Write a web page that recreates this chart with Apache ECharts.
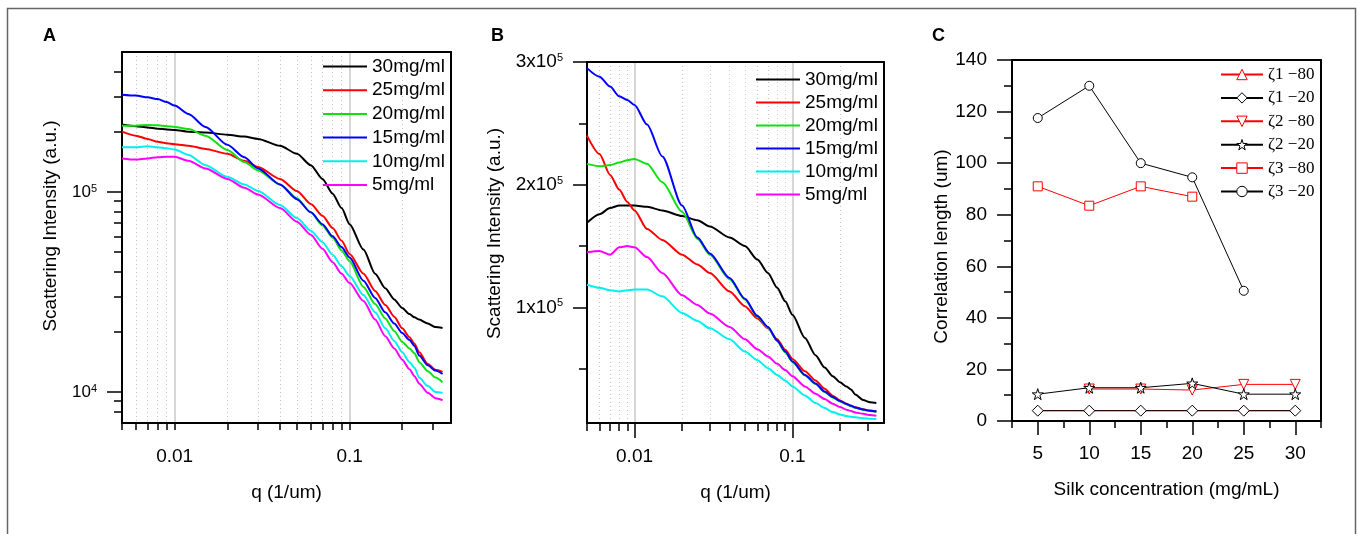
<!DOCTYPE html>
<html><head><meta charset="utf-8">
<script src="https://cdn.jsdelivr.net/npm/echarts@6/dist/echarts.min.js"></script>
<style>html,body{margin:0;padding:0;background:#fff}#c{width:1358px;height:534px}</style>
</head><body><div id="c"></div>
<script>
// ---------- DATA ----------
const Q = [0.005,0.006,0.007,0.008,0.009,0.01,0.012,0.015,0.02,0.025,0.03,0.04,0.05,0.06,0.07,0.08,0.09,0.1,0.12,0.14,0.16,0.18,0.2,0.22,0.235,0.25,0.28,0.31,0.34];
const NAMES = ['30mg/ml','25mg/ml','20mg/ml','15mg/ml','10mg/ml','5mg/ml'];

// Panel A (log-log)
const A30 = [2.17e5,2.13e5,2.10e5,2.07e5,2.05e5,2.04e5,2.00e5,1.98e5,1.93e5,1.89e5,1.84e5,1.70e5,1.55e5,1.36e5,1.16e5,9.8e4,8.3e4,6.9e4,5.15e4,3.9e4,3.3e4,2.9e4,2.63e4,2.45e4,2.36e4,2.3e4,2.2e4,2.11e4,2.09e4];
const A25 = [2.0e5,1.91e5,1.84e5,1.78e5,1.75e5,1.73e5,1.70e5,1.64e5,1.55e5,1.43e5,1.33e5,1.16e5,1.01e5,8.7e4,7.6e4,6.6e4,5.7e4,4.9e4,3.9e4,3.2e4,2.72e4,2.38e4,2.08e4,1.88e4,1.74e4,1.58e4,1.38e4,1.29e4,1.26e4];
const A20 = [2.14e5,2.14e5,2.16e5,2.15e5,2.13e5,2.11e5,2.06e5,1.91e5,1.62e5,1.41e5,1.28e5,1.09e5,9.3e4,7.9e4,6.8e4,5.9e4,5.1e4,4.5e4,3.35e4,2.75e4,2.33e4,2.02e4,1.78e4,1.65e4,1.56e4,1.41e4,1.27e4,1.18e4,1.12e4];
const A15 = [3.06e5,3.03e5,2.97e5,2.91e5,2.81e5,2.70e5,2.45e5,2.11e5,1.72e5,1.49e5,1.31e5,1.09e5,9.2e4,7.9e4,6.9e4,6.0e4,5.3e4,4.7e4,3.6e4,2.95e4,2.5e4,2.2e4,1.97e4,1.82e4,1.7e4,1.52e4,1.36e4,1.28e4,1.23e4];
const A10 = [1.67e5,1.67e5,1.69e5,1.67e5,1.65e5,1.63e5,1.53e5,1.36e5,1.19e5,1.09e5,1.01e5,8.6e4,7.4e4,6.4e4,5.6e4,4.85e4,4.25e4,3.8e4,3.05e4,2.5e4,2.08e4,1.8e4,1.58e4,1.41e4,1.32e4,1.18e4,1.07e4,1.0e4,9.9e3];
const A05 = [1.47e5,1.45e5,1.47e5,1.49e5,1.50e5,1.50e5,1.43e5,1.31e5,1.16e5,1.05e5,9.7e4,8.3e4,7.1e4,6.1e4,5.2e4,4.45e4,3.9e4,3.5e4,2.85e4,2.3e4,1.9e4,1.65e4,1.45e4,1.3e4,1.2e4,1.1e4,9.9e3,9.3e3,9.1e3];

// Panel B (log x, linear y)
const B30 = [1.69e5,1.76e5,1.81e5,1.83e5,1.83e5,1.83e5,1.82e5,1.79e5,1.745e5,1.71e5,1.66e5,1.57e5,1.5e5,1.39e5,1.28e5,1.16e5,1.05e5,9.4e4,7.5e4,6.1e4,5.1e4,4.4e4,3.9e4,3.55e4,3.3e4,2.9e4,2.45e4,2.27e4,2.21e4];
const B25 = [2.4e5,2.25e5,2.08e5,1.96e5,1.86e5,1.79e5,1.64e5,1.55e5,1.43e5,1.35e5,1.28e5,1.13e5,1.01e5,9.1e4,8.3e4,7.4e4,6.55e4,5.8e4,4.8e4,4.05e4,3.37e4,2.8e4,2.42e4,2.15e4,1.98e4,1.86e4,1.7e4,1.6e4,1.54e4];
const B20 = [2.17e5,2.15e5,2.16e5,2.18e5,2.2e5,2.21e5,2.17e5,2.02e5,1.78e5,1.56e5,1.43e5,1.23e5,1.065e5,9.25e4,8.35e4,7.25e4,6.35e4,5.55e4,4.45e4,3.75e4,3.1e4,2.65e4,2.33e4,2.1e4,1.95e4,1.82e4,1.65e4,1.55e4,1.49e4];
const B15 = [2.95e5,2.88e5,2.80e5,2.72e5,2.69e5,2.65e5,2.49e5,2.23e5,1.83e5,1.57e5,1.44e5,1.24e5,1.07e5,9.3e4,8.4e4,7.3e4,6.4e4,5.6e4,4.5e4,3.8e4,3.15e4,2.7e4,2.37e4,2.13e4,1.98e4,1.85e4,1.68e4,1.58e4,1.52e4];
const B10 = [1.185e5,1.16e5,1.14e5,1.13e5,1.14e5,1.145e5,1.145e5,1.09e5,9.55e4,8.9e4,8.3e4,7.4e4,6.4e4,5.7e4,5.05e4,4.5e4,4.05e4,3.56e4,2.83e4,2.21e4,1.8e4,1.47e4,1.28e4,1.15e4,1.08e4,1.04e4,9.7e3,9.2e3,9.0e3];
const B05 = [1.45e5,1.46e5,1.43e5,1.49e5,1.5e5,1.49e5,1.41e5,1.28e5,1.1e5,1.02e5,9.5e4,8.4e4,7.4e4,6.6e4,6.0e4,5.4e4,4.9e4,4.4e4,3.56e4,2.97e4,2.53e4,2.15e4,1.88e4,1.66e4,1.55e4,1.44e4,1.33e4,1.23e4,1.17e4];

// Panel C
const CONC = [5,10,15,20,25,30];
const Z1_80 = [4,4,4,4,4,4];
const Z1_20 = [4,4,4,4,4,4];
const Z2_80 = [null,12.4,12.4,12,14.2,14.2];
const Z2_20 = [10.4,12.9,12.9,14.6,10.4,10.4];
const Z3_80 = [91,83.5,91,87,null,null];
const Z3_20 = [117.5,130,100,94.5,50.5,null];
const C_NAMES = ['ζ1 −80','ζ1 −20','ζ2 −80','ζ2 −20','ζ3 −80','ζ3 −20'];

// tick values
const Q_MAJOR = [0.01, 0.1];
const Q_MINOR = [0.005,0.006,0.007,0.008,0.009,0.02,0.03,0.04,0.05,0.06,0.07,0.08,0.09,0.2,0.3];
const AY_MAJOR = [1e4, 1e5];
const AY_MINOR = [8000,9000,2e4,3e4,4e4,5e4,6e4,7e4,8e4,9e4,2e5,3e5,4e5];
const BY_MAJOR = [1e5, 2e5, 3e5];
const BY_MINOR = [5e4, 1.5e5, 2.5e5];
const CX_MAJOR = [5,10,15,20,25,30];
const CX_MINOR = [2.5,7.5,12.5,17.5,22.5,27.5,32.5];

// ---------- STYLE ----------
const FONT = 'Liberation Sans, Arial, sans-serif';
const SERIF = 'Liberation Serif, Times New Roman, serif';
const COLORS = ['#000000','#ff0000','#10e010','#0000ff','#00f0f0','#ff00ff'];
const AXLINE = {onZero:false,lineStyle:{color:'#000',width:2}};
const TICK = (vals,len)=>({show:true,customValues:vals,length:len,lineStyle:{color:'#000',width:1.5}});
const LBL = {color:'#000',fontFamily:FONT,fontSize:19};
const NAMESTYLE = (pad)=>({color:'#000',fontFamily:FONT,fontSize:19,padding:pad});

function qAxes(grid, min, max, majorLen, minorLen){
  return [
    {type:'log',logBase:10,gridIndex:grid,min:min,max:max,position:'bottom',
     axisLine:AXLINE,axisTick:TICK(Q_MAJOR,majorLen),
     axisLabel:Object.assign({customValues:Q_MAJOR,margin:24,formatter:v=>String(+(+v).toPrecision(3))},LBL),
     splitLine:{show:true,lineStyle:{color:'#c8c8c8',width:1.5}},
     name:'q (1/um)',nameLocation:'middle',nameGap:60,nameTextStyle:NAMESTYLE(0)},
    {type:'log',logBase:10,gridIndex:grid,min:min,max:max,position:'bottom',
     axisLine:{show:false},axisTick:TICK(Q_MINOR,minorLen),axisLabel:{show:false},
     splitLine:{show:true,showMinLine:false,showMaxLine:false,lineStyle:{color:'#c4c4c4',width:1,type:[1,3]}}}
  ];
}
// plain frame lines (top / right) for each panel box
const frameX = g => ({type:'value',gridIndex:g,min:0,max:1,position:'top',z:6,axisLine:AXLINE,
  axisTick:{show:false},axisLabel:{show:false},splitLine:{show:false}});
const frameY = g => ({type:'value',gridIndex:g,min:0,max:1,position:'right',z:6,axisLine:AXLINE,
  axisTick:{show:false},axisLabel:{show:false},splitLine:{show:false}});

const xAxis = [
  ...qAxes(0, 0.005, 0.38, 7, 7),
  ...qAxes(1, 0.005, 0.38, 15, 8),
  {type:'value',gridIndex:2,min:2.5,max:32.5,position:'bottom',axisLine:AXLINE,
   axisTick:TICK(CX_MAJOR,14),axisLabel:Object.assign({customValues:CX_MAJOR,margin:23},LBL),splitLine:{show:false},
   name:'Silk concentration (mg/mL)',nameLocation:'middle',nameGap:59,nameTextStyle:NAMESTYLE(0)},
  {type:'value',gridIndex:2,min:2.5,max:32.5,position:'bottom',axisLine:{show:false},
   axisTick:TICK(CX_MINOR,7),axisLabel:{show:false},splitLine:{show:false}},
  frameX(0), frameX(1), frameX(2)
];

const supRich = (base)=>({b:{fontSize:base,fontFamily:FONT,color:'#000'},s:{fontSize:11,fontFamily:FONT,color:'#000',verticalAlign:'top'}});

const yAxis = [
  {type:'log',logBase:10,gridIndex:0,min:7000,max:5e5,position:'left',axisLine:AXLINE,
   axisTick:TICK(AY_MAJOR,15),
   axisLabel:{customValues:AY_MAJOR,margin:25,formatter:v=>'{b|10}{s|'+Math.round(Math.log10(v))+'}',rich:supRich(17)},
   splitLine:{show:false},
   name:'Scattering Intensity (a.u.)',nameLocation:'middle',nameGap:62,nameTextStyle:NAMESTYLE([0,0,0,23])},
  {type:'log',logBase:10,gridIndex:0,min:7000,max:5e5,position:'left',axisLine:{show:false},
   axisTick:TICK(AY_MINOR,8),axisLabel:{show:false},splitLine:{show:false}},
  {type:'value',gridIndex:1,min:5800,max:3e5,position:'left',axisLine:AXLINE,
   axisTick:TICK(BY_MAJOR,14),
   axisLabel:{customValues:BY_MAJOR,margin:24,formatter:v=>'{b|'+Math.round(v/1e5)+'x10}{s|5}',rich:supRich(19)},
   splitLine:{show:false},
   name:'Scattering Intensity (a.u.)',nameLocation:'middle',nameGap:83,nameTextStyle:NAMESTYLE([0,0,0,18])},
  {type:'value',gridIndex:1,min:5800,max:3e5,position:'left',axisLine:{show:false},
   axisTick:TICK(BY_MINOR,8),axisLabel:{show:false},splitLine:{show:false}},
  {type:'value',gridIndex:2,min:0,max:140,interval:20,position:'left',axisLine:AXLINE,
   axisTick:{show:true,length:15,lineStyle:{color:'#000',width:1.5}},
   minorTick:{show:true,splitNumber:2,length:8,lineStyle:{color:'#000',width:1.5}},
   axisLabel:Object.assign({margin:25},LBL),splitLine:{show:false},
   name:'Correlation length (um)',nameLocation:'middle',nameGap:59,nameTextStyle:NAMESTYLE([0,12,0,0])},
  frameY(0), frameY(1), frameY(2)
];

const grid = [
  {left:122,top:52,width:329,height:371},
  {left:587,top:62,width:297,height:361},
  {left:1012,top:60,width:309,height:361}
];

function curve(name, vals, color, xi, yi){
  return {type:'line',name:name,xAxisIndex:xi,yAxisIndex:yi,symbol:'none',smooth:0.25,smoothMonotone:'x',
    lineStyle:{color:color,width:2},itemStyle:{color:color},
    data:Q.map((q,i)=>[q,vals[i]]),animation:false,z:3};
}
const AVALS=[A30,A25,A20,A15,A10,A05], BVALS=[B30,B25,B20,B15,B10,B05];
const series = [];
AVALS.forEach((v,i)=>series.push(curve(NAMES[i],v,COLORS[i],0,0)));
BVALS.forEach((v,i)=>series.push(curve(NAMES[i],v,COLORS[i],2,2)));

const STAR = 'path://M50,0 L61.8,35.4 L100,35.4 L69.1,57.3 L80.9,92.7 L50,70.8 L19.1,92.7 L30.9,57.3 L0,35.4 L38.2,35.4 Z';
const TRI_DOWN = 'path://M0,0 L100,0 L50,86.6 Z';
const C_DEF = [
  {vals:Z1_80,color:'#ff0000',symbol:'triangle',size:10,showSymbol:false},
  {vals:Z1_20,color:'#000000',symbol:'diamond',size:11},
  {vals:Z2_80,color:'#ff0000',symbol:TRI_DOWN,size:10},
  {vals:Z2_20,color:'#000000',symbol:STAR,size:11},
  {vals:Z3_80,color:'#ff0000',symbol:'rect',size:9},
  {vals:Z3_20,color:'#000000',symbol:'circle',size:9}
];
C_DEF.forEach((d,i)=>series.push({type:'line',name:C_NAMES[i],xAxisIndex:4,yAxisIndex:4,
  symbol:d.symbol,symbolSize:d.size,showSymbol:d.showSymbol!==false,
  lineStyle:{color:d.color,width:1},itemStyle:{color:'#ffffff',borderColor:d.color,borderWidth:1},
  data:CONC.map((c,k)=>[c,d.vals[k]]),animation:false,z:3}));

const legendBase = {orient:'vertical',selectedMode:false,itemWidth:44,itemHeight:14,padding:0,
  itemStyle:{opacity:0},
  textStyle:{color:'#000',fontFamily:FONT,fontSize:19}};
const legend = [
  Object.assign({},legendBase,{left:322,top:57,itemGap:4.7,data:NAMES}),
  Object.assign({},legendBase,{left:755,top:70,itemGap:4.0,data:NAMES}),
  {orient:'vertical',selectedMode:false,left:1220,top:66,itemWidth:42,itemHeight:13,itemGap:6.4,padding:0,
   itemStyle:{color:'#ffffff',borderWidth:1},
   textStyle:{color:'#000',fontFamily:SERIF,fontSize:17},data:C_NAMES}
];

const titleStyle = {color:'#000',fontFamily:FONT,fontSize:18,fontWeight:'bold'};
const title = [
  {text:'A',left:43,top:27,padding:0,textStyle:titleStyle},
  {text:'B',left:491,top:27,padding:0,textStyle:titleStyle},
  {text:'C',left:932,top:27,padding:0,textStyle:titleStyle}
];

const chart = echarts.init(document.getElementById('c'),null,{renderer:'canvas'});
chart.setOption({
  animation:false,backgroundColor:'#fff',
  title:title,grid:grid,xAxis:xAxis,yAxis:yAxis,legend:legend,series:series,
  graphic:[{type:'rect',shape:{x:7.5,y:8.5,width:1348,height:620},style:{fill:'none',stroke:'#666',lineWidth:1.5},silent:true}]
});
</script></body></html>
